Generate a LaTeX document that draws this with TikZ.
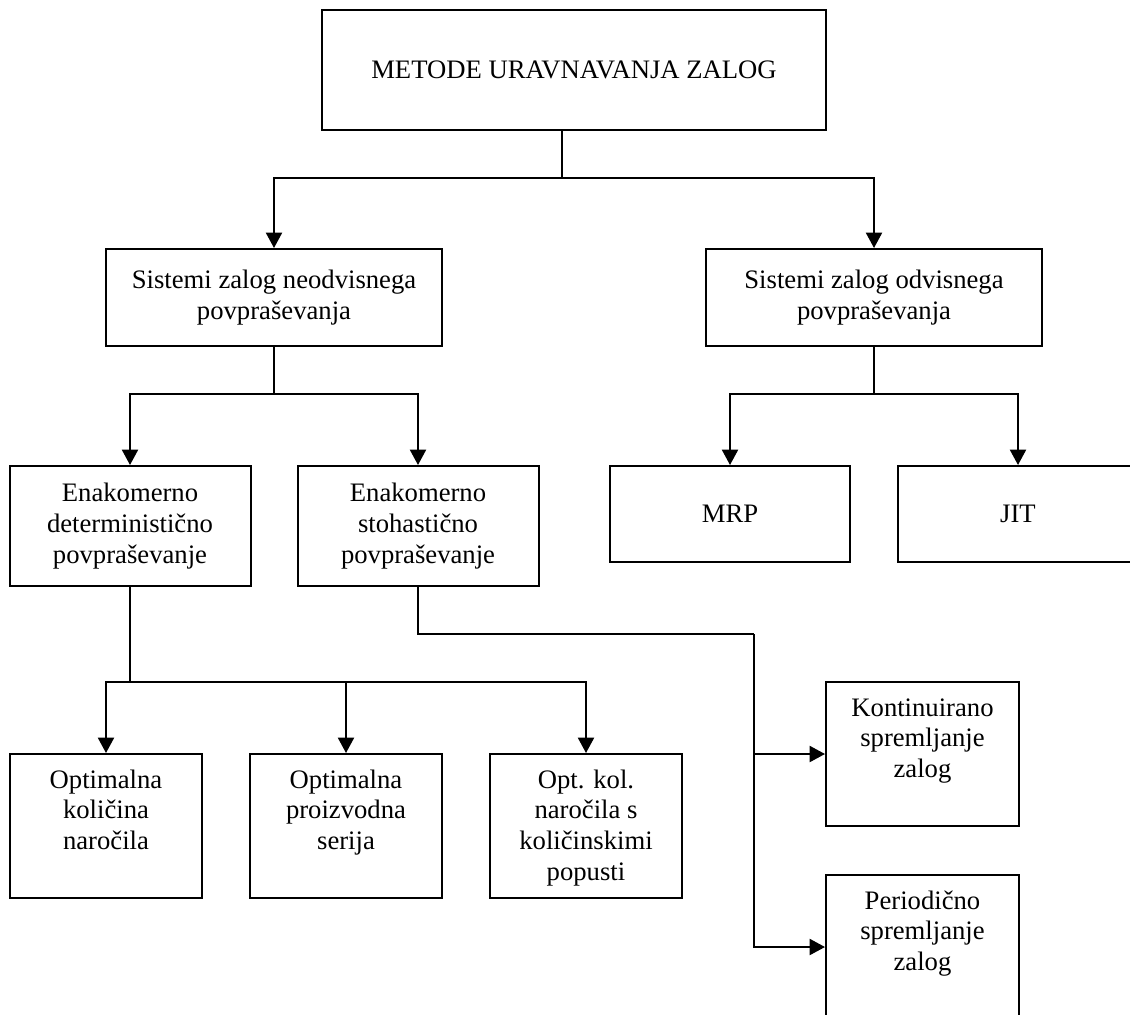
\documentclass[tikz,border=0pt]{standalone}
\usepackage{fontspec}
\setmainfont{Liberation Serif}
\usetikzlibrary{arrows.meta}
\newcommand{\toptext}[3]{\parbox[c][#1][t]{#2}{\vspace*{9.5pt}\centering\strut #3\par}}
\begin{document}
\begin{tikzpicture}[x=0.75pt,y=-0.75pt,
  txt/.style={font=\fontsize{20pt}{23pt}\selectfont},
  box/.style={draw, line width=1.5pt, inner sep=0pt, align=center, txt},
  tbox/.style={draw, line width=1.5pt, inner sep=0pt, txt},
  ln/.style={line width=1.5pt},
  arr/.style={line width=1.5pt, -{Triangle[length=11.5pt,width=12pt]}}]
\useasboundingbox (0,0) rectangle (1130,1014);
\clip (0,0) rectangle (1130,1014);

% boxes
\node[box, minimum width=378pt, minimum height=90pt] (top) at (574,70) {METODE URAVNAVANJA ZALOG};
\node[box, minimum width=252pt, minimum height=72.75pt] (neo) at (274,297.5) {Sistemi zalog neodvisnega\\povpraševanja};
\node[box, minimum width=252pt, minimum height=72.75pt] (odv) at (874,297.5) {Sistemi zalog odvisnega\\povpraševanja};
\node[box, minimum width=180.75pt, minimum height=90pt] (det) at (130,526) {Enakomerno\\deterministično\\povpraševanje};
\node[box, minimum width=180.75pt, minimum height=90pt] (sto) at (418,526) {Enakomerno\\stohastično\\povpraševanje};
\node[box, minimum width=180pt, minimum height=72pt] (mrp) at (730,514) {MRP};
\node[box, minimum width=180pt, minimum height=72pt] (jit) at (1018,514) {JIT};
\node[tbox, minimum width=144pt, minimum height=108pt] (b1) at (106,826) {\toptext{108pt}{144pt}{Optimalna\\količina\\naročila}};
\node[tbox, minimum width=144pt, minimum height=108pt] (b2) at (346,826) {\toptext{108pt}{144pt}{Optimalna\\proizvodna\\serija}};
\node[tbox, minimum width=144pt, minimum height=108pt] (b3) at (586,826) {\toptext{108pt}{144pt}{Opt. kol.\\naročila s\\količinskimi\\popusti}};
\node[tbox, minimum width=144.75pt, minimum height=108pt] (kont) at (922.5,754) {\toptext{108pt}{144.75pt}{Kontinuirano\\spremljanje\\zalog}};
\node[tbox, minimum width=144.75pt, minimum height=108pt] (per) at (922.5,947) {\toptext{108pt}{144.75pt}{Periodično\\spremljanje\\zalog}};

% connectors
\coordinate (j1) at (562,178);
\draw[ln] (top.south -| j1) -- (j1);
\draw[arr] (j1) -| (neo.north);
\draw[arr] (j1) -| (odv.north);

\coordinate (j2) at (274,394);
\draw[ln] (neo.south) -- (j2);
\draw[arr] (j2) -| (det.north);
\draw[arr] (j2) -| (sto.north);

\coordinate (j3) at (874,394);
\draw[ln] (odv.south) -- (j3);
\draw[arr] (j3) -| (mrp.north);
\draw[arr] (j3) -| (jit.north);

\coordinate (j4) at (130,682);
\draw[ln] (det.south) -- (j4);
\draw[arr] (j4) -| (b1.north);
\draw[arr] (j4) -| (b2.north);
\draw[arr] (j4) -| (b3.north);

\coordinate (j5) at (754,634);
\draw[ln] (sto.south) |- (j5);
\draw[arr] (j5) |- (kont.west);
\draw[arr] (j5) |- (per.west);
\end{tikzpicture}
\end{document}
